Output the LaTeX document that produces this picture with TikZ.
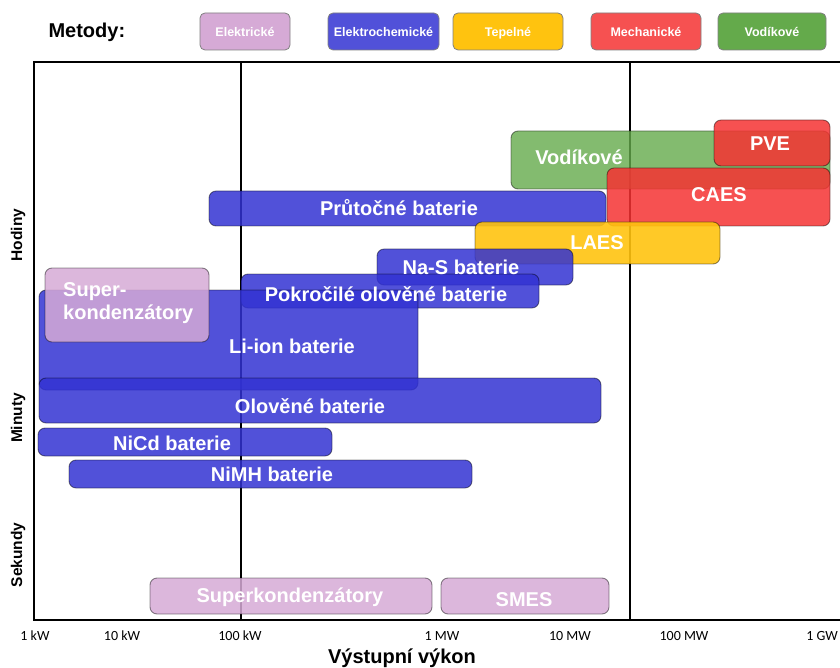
\documentclass[tikz,border=0pt]{standalone}
\usepackage{fontspec}
\setmainfont{Liberation Sans}
\newfontfamily\tickfont{Carlito}
\usetikzlibrary{positioning}

\definecolor{elc}{RGB}{214,170,214}
\definecolor{chem}{RGB}{50,50,210}
\definecolor{heat}{RGB}{255,195,15}
\definecolor{mech}{RGB}{245,50,50}
\definecolor{hydro}{RGB}{100,170,75}

\begin{document}
\begin{tikzpicture}[x=1pt,y=-1pt]
      % Styles
      \tikzset{box/.style={rounded corners=7pt,draw=black,draw opacity=0.45,line width=0.9pt},
               chembox/.style={box,fill=chem,fill opacity=0.85},
               elbox/.style={box,fill=elc,fill opacity=0.85},
               heatbox/.style={box,fill=heat,fill opacity=0.9},
               mechbox/.style={box,fill=mech,fill opacity=0.85},
               hydrobox/.style={box,fill=hydro,fill opacity=0.8},
               lbl/.style={text=white,inner sep=0pt,font=\bfseries\fontsize{20}{23}\selectfont},
               legbox/.style={rounded corners=5pt,draw=black!50,line width=0.8pt,minimum height=37pt,
                              inner sep=1pt,text height=12pt,text depth=1pt,text=white,
                              font=\bfseries\fontsize{12.5}{14}\selectfont},
               axis/.style={line width=1.7pt},
               timelbl/.style={rotate=90,font=\bfseries\fontsize{15.5}{17}\selectfont}}
      \useasboundingbox (0,0) rectangle (840,668);

      % legend
      \node[font=\bfseries\fontsize{20}{22}\selectfont,anchor=west] (metody) at (45,32) {Metody:};
      \foreach \xc/\bw/\col/\txt [count=\i] in {245/90/elc/Elektrické,383.5/111/chem!85/Elektrochemické,
                                                 508/110/heat/Tepelné,646/110/mech!85/Mechanické,772/108/hydro/Vodíkové}
        \node[legbox,fill=\col,minimum width=\bw] (leg\i) at (\xc,31.5) {\txt};

      % frame and decade lines
      \draw[axis] (840,62) -- (34,62) -- (34,620) -- (840,620);
      \draw[axis] (241,62) -- (241,620);
      \draw[axis] (630,62) -- (630,620);

      % storage ranges
      \draw[hydrobox] (511,131) rectangle (830,189);
      \draw[mechbox] (714,120) rectangle (830,166);
      \draw[mechbox] (607,168) rectangle (830,226);
      \draw[chembox] (209,191) rectangle (606,226);
      \draw[heatbox] (475,222) rectangle (720,264);
      \draw[chembox] (377,249) rectangle (573,285);
      \draw[chembox] (241,274) rectangle (539,308);
      \draw[chembox] (39,290) rectangle (418,390);
      \draw[elbox] (45,268) rectangle (209,342);
      \draw[chembox] (39,378) rectangle (601,423);
      \draw[chembox] (38,428) rectangle (332,456);
      \draw[chembox] (69,460) rectangle (472,488);
      \draw[elbox] (150,578) rectangle (432,614);
      \draw[elbox] (441,578) rectangle (609,614);

      % box labels
      \node[lbl] (vodik) at (579,157) {Vodíkové};
      \node[lbl] (pve) at (770,144) {PVE};
      \node[lbl] (caes) at (719,195) {CAES};
      \node[lbl] (prutok) at (399,208) {Průtočné baterie};
      \node[lbl] (laes) at (597,243) {LAES};
      \node[lbl] (nas) at (461,267) {Na-S baterie};
      \node[lbl] (pokrol) at (386,294) {Pokročilé olověné baterie};
      \node[lbl] (liion) at (292,346) {Li-ion baterie};
      \node[lbl,align=left,anchor=west] (superh) at (63,303) {Super-\\kondenzátory};
      \node[lbl] (olov) at (310,406) {Olověné baterie};
      \node[lbl] (nicd) at (172,443) {NiCd baterie};
      \node[lbl] (nimh) at (272,474) {NiMH baterie};
      \node[lbl] (supers) at (290,597) {Superkondenzátory};
      \node[lbl] (smes) at (524,600) {SMES};

      % time scale
      \node[timelbl] (hodiny) at (18,235) {Hodiny};
      \node[timelbl] (minuty) at (18,418) {Minuty};
      \node[timelbl] (sekundy) at (18,555) {Sekundy};

      % power scale
      \foreach \xx/\tx [count=\i] in {35/1 kW,122/10 kW,240/100 kW,442/1 MW,570/10 MW,684/100 MW,822/1 GW}
        \node[font=\tickfont\fontsize{14}{16}\selectfont] (tick\i) at (\xx,636) {\tx};
      \node[font=\bfseries\fontsize{20}{22}\selectfont] (vykon) at (402,658) {Výstupní výkon};
    \end{tikzpicture}
\end{document}
